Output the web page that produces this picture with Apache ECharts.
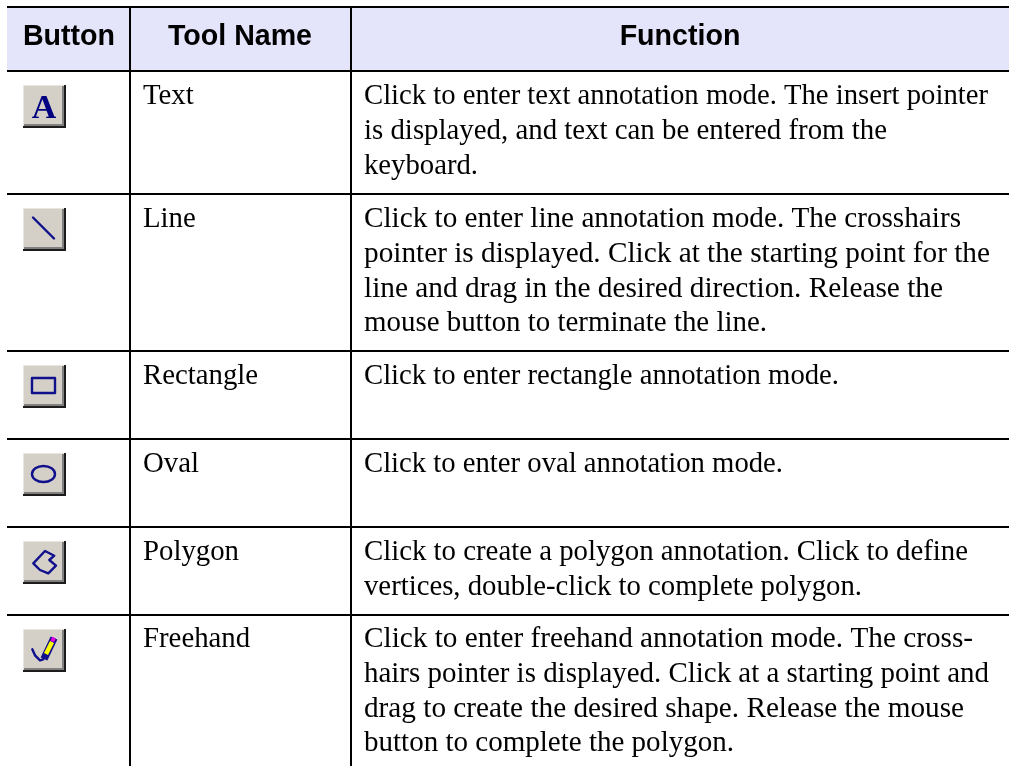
<!DOCTYPE html>
<html>
<head>
<meta charset="utf-8">
<title>Annotation tools</title>
<style>
    html, body { margin: 0; padding: 0; background: #ffffff; }
    #chart { width: 1011px; height: 767px; }
</style>
<script src="https://cdn.jsdelivr.net/npm/echarts@6/dist/echarts.min.js"></script>
</head>
<body>
<div id="chart"></div>
<script>
// Table content
const headers = ['Button', 'Tool Name', 'Function'];
const toolNames = ['Text', 'Line', 'Rectangle', 'Oval', 'Polygon', 'Freehand'];
const functionLines = [
    ['Click to enter text annotation mode. The insert pointer',
     'is displayed, and text can be entered from the',
     'keyboard.'],
    ['Click to enter line annotation mode. The crosshairs',
     'pointer is displayed. Click at the starting point for the',
     'line and drag in the desired direction. Release the',
     'mouse button to terminate the line.'],
    ['Click to enter rectangle annotation mode.'],
    ['Click to enter oval annotation mode.'],
    ['Click to create a polygon annotation. Click to define',
     'vertices, double-click to complete polygon.'],
    ['Click to enter freehand annotation mode. The cross-',
     'hairs pointer is displayed. Click at a starting point and',
     'drag to create the desired shape. Release the mouse',
     'button to complete the polygon.']
];

// Layout of the table, in axis units (the axes map 1:1 to the page)
const tableLeft = 7;
const tableRight = 1009;
const tableTop = 7;
const tableBottom = 766;
const columnRules = [130, 351];
const headerRule = 71;
const rowRules = [194, 351, 439, 527, 615];
const headerCenters = [69, 240, 680];
const headerBaseline = 45;
const buttonLeft = 23;
const buttonTops = [85, 208, 365, 453, 541, 629];
const buttonSize = 43;
const toolNameLeft = 143;
const functionLeft = 364;
const rowBaselines = [104, 227, 384, 472, 560, 647];
const lineHeight = 34.7;
// The original text is set with slightly different tracking per line
const functionLineRights = [
    [988, 887, 478],
    [961, 990, 943, 767],
    [839],
    [783],
    [968, 862],
    [973, 989, 964, 734]
];

const black = '#000000';
const headerFill = '#e4e4fb';
const iconBlue = '#10108c';
const serifSize = 28.8;
const serifFont = serifSize + 'px "Liberation Serif"';
const headerSize = 28.6;
const headerFont = 'bold ' + headerSize + 'px "Liberation Sans"';

const measureContext = document.createElement('canvas').getContext('2d');

// Nudge from the middle line of the text back onto its baseline
function textAt(text, point, font, size, offset, align) {
    return {
        type: 'text',
        silent: true,
        x: point[0],
        y: point[1] - size * offset,
        style: {
            text: text,
            x: 0,
            y: 0,
            font: font,
            fill: black,
            align: align || 'left',
            verticalAlign: 'middle'
        }
    };
}

function rect(api, x, y, w, h, fill) {
    const p = api.coord([x, y]);
    const q = api.coord([x + w, y + h]);
    return {
        type: 'rect',
        silent: true,
        shape: { x: p[0], y: p[1], width: q[0] - p[0], height: q[1] - p[1] },
        style: { fill: fill }
    };
}

// Toolbar glyphs, drawn in button units
function iconShape(api, index, x, y) {
    const at = (px, py) => api.coord([x + px, y + py]);
    const stroke = { fill: null, stroke: iconBlue, lineWidth: 2.4, lineJoin: 'round', lineCap: 'round' };
    if (index === 0) {
        const glyph = textAt('A', at(21, 33), 'bold 34px "Liberation Serif"', 34, 0.25, 'center');
        glyph.style.fill = '#000080';
        return [glyph];
    }
    if (index === 1) {
        return [{ type: 'polyline', silent: true, shape: { points: [at(10, 9.5), at(31, 30.5)] }, style: stroke }];
    }
    if (index === 2) {
        const p = at(9, 13);
        return [{ type: 'rect', silent: true, shape: { x: p[0], y: p[1], width: 23, height: 15 }, style: stroke }];
    }
    if (index === 3) {
        const c = at(20.5, 21);
        return [{ type: 'ellipse', silent: true, shape: { cx: c[0], cy: c[1], rx: 11.5, ry: 8 }, style: stroke }];
    }
    if (index === 4) {
        const points = [[10.3, 22.3], [22, 10], [31.3, 14.7], [26.3, 19], [33, 24.7], [25.3, 32.3], [17, 29]];
        return [{ type: 'polygon', silent: true, shape: { points: points.map(p => at(p[0], p[1])) }, style: stroke }];
    }
    const curve = [[9.3, 20.3], [12, 26.3], [17, 31.3], [20.3, 30.3], [23, 24.7]];
    const penLine = (from, to, color, width) => ({
        type: 'polyline',
        silent: true,
        shape: { points: [at(from[0], from[1]), at(to[0], to[1])] },
        style: { fill: null, stroke: color, lineWidth: width, lineCap: 'butt' }
    });
    return [
        { type: 'polyline', silent: true, shape: { points: curve.map(p => at(p[0], p[1])) }, style: stroke },
        penLine([21, 30], [31, 9], iconBlue, 7.5),
        penLine([23, 25], [29, 13], '#ffff00', 4.5),
        penLine([29.3, 12.5], [31, 8.5], '#e000e0', 4)
    ];
}

function renderButton(params, api) {
    const index = params.dataIndex;
    const x = buttonLeft;
    const y = buttonTops[index];
    const s = buttonSize;
    return {
        type: 'group',
        children: [
            rect(api, x, y, s, s, '#d4d0c8'),
            rect(api, x, y, s, 1, '#e8e6e1'),
            rect(api, x, y, 1, s, '#e8e6e1'),
            rect(api, x + 1, y + s - 4, s - 1, 2, '#808080'),
            rect(api, x + s - 4, y + 1, 2, s - 1, '#808080'),
            rect(api, x, y + s - 2, s, 2, '#1c1c1c'),
            rect(api, x + s - 2, y, 2, s, '#1c1c1c')
        ].concat(iconShape(api, index, x, y))
    };
}

function renderRowText(params, api) {
    const index = params.dataIndex;
    const baseline = rowBaselines[index];
    const children = [textAt(toolNames[index], api.coord([toolNameLeft, baseline]), serifFont, serifSize, 0.25)];
    measureContext.font = serifFont;
    functionLines[index].forEach((line, i) => {
        const point = api.coord([functionLeft, baseline + i * lineHeight]);
        const el = textAt(line, point, serifFont, serifSize, 0.25);
        el.scaleX = (functionLineRights[index][i] - functionLeft) / measureContext.measureText(line).width;
        children.push(el);
    });
    return { type: 'group', children: children };
}

function renderHeader(params, api) {
    const index = params.dataIndex;
    const children = [];
    if (index === 0) {
        children.push(rect(api, tableLeft, tableTop, tableRight - tableLeft, headerRule - tableTop, headerFill));
    }
    const point = api.coord([headerCenters[index], headerBaseline]);
    children.push(textAt(headers[index], point, headerFont, headerSize, 0.27, 'center'));
    return { type: 'group', children: children };
}

function renderRules(params, api) {
    const children = [];
    [tableTop, headerRule].concat(rowRules).forEach(y => {
        children.push(rect(api, tableLeft, y - 1, tableRight - tableLeft, 2, black));
    });
    columnRules.forEach(x => {
        children.push(rect(api, x - 1, tableTop, 2, tableBottom - tableTop, black));
    });
    return { type: 'group', children: children };
}

const chart = echarts.init(document.getElementById('chart'), null, { renderer: 'canvas' });

chart.setOption({
    animation: false,
    backgroundColor: '#ffffff',
    tooltip: { show: false },
    grid: { left: 0, right: 0, top: 0, bottom: 0 },
    xAxis: { type: 'value', min: 0, max: 1011, show: false },
    yAxis: { type: 'value', min: 0, max: 767, inverse: true, show: false },
    series: [
        { type: 'custom', name: 'header', data: headers.map((h, i) => [i]), renderItem: renderHeader, z: 1 },
        { type: 'custom', name: 'rules', data: [[0]], renderItem: renderRules, z: 2 },
        { type: 'custom', name: 'buttons', data: toolNames.map((t, i) => [i]), renderItem: renderButton, z: 3 },
        { type: 'custom', name: 'rows', data: toolNames.map((t, i) => [i]), renderItem: renderRowText, z: 3 }
    ]
});
</script>
</body>
</html>
